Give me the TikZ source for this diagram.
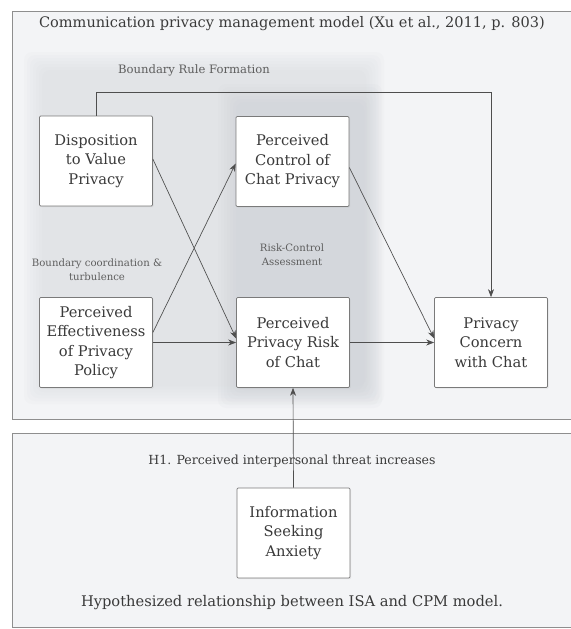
\documentclass[tikz,border=0pt]{standalone}
\usepackage{fontspec}
\setmainfont{DejaVu Serif}
\usetikzlibrary{arrows.meta,calc,shadows}
\definecolor{framebg}{HTML}{F3F4F6}
\definecolor{frameline}{HTML}{8E8E8E}
\definecolor{shadecol}{HTML}{C9CDD3}
\definecolor{boxline}{HTML}{7A7A7A}
\definecolor{lin}{HTML}{4E4E4E}
\definecolor{txt}{HTML}{3A3A3A}
\definecolor{labtxt}{HTML}{5E5E5E}
\begin{document}
\begin{tikzpicture}[x=0.75pt,y=-0.75pt,
  box/.style={draw=boxline, fill=white, line width=0.5pt, minimum width=84.75pt,
    minimum height=67.5pt, align=center, text=txt, inner sep=2pt,
    font=\fontsize{11}{14.6}\selectfont, rounded corners=0.8pt,
    drop shadow={opacity=0.12, shadow xshift=0.8pt, shadow yshift=-0.8pt}},
  arr/.style={draw=lin, line width=0.5pt, -{Stealth[length=6pt,width=4.5pt]}},
  lab/.style={text=labtxt, align=center, font=\fontsize{7.6}{10.5}\selectfont},
  frame/.style={fill=framebg, draw=frameline, line width=0.6pt}]
\useasboundingbox (0,0) rectangle (571,629);
\clip (0,0) rectangle (571,629);
\fill[white] (0,0) rectangle (571,629);
% frames
\path[frame] (12,11) rectangle (590,419);
\path[frame] (12,433) rectangle (590,627);
% shaded regions (soft edges)
\foreach \i in {0,...,6}
  \fill[shadecol, opacity=0.06, rounded corners=6] (24+\i*3,52+\i*3) rectangle (384-\i*3,404-\i*3);
\foreach \i in {0,...,6}
  \fill[shadecol, opacity=0.08, rounded corners=6] (218+\i*3,84+\i*3) rectangle (382-\i*3,408-\i*3);
% texts
\node[text=txt, font=\fontsize{10.9}{12}\selectfont] (title) at (292,24)
  {Communication privacy management model (Xu et al., 2011, p. 803)};
\node[lab, font=\fontsize{8.7}{10}\selectfont] (brf) at (194,70) {Boundary Rule Formation};
\node[lab] (bct) at (97,270) {Boundary coordination \&\\turbulence};
\node[lab] (rca) at (292,255) {Risk-Control\\Assessment};
\node[text=txt, font=\fontsize{9.4}{10}\selectfont] (h1) at (292,461)
  {H1. Perceived interpersonal threat increases};
\node[text=txt, font=\fontsize{11}{12}\selectfont] (hyp) at (292,603)
  {Hypothesized relationship between ISA and CPM model.};
% boxes
\node[box] (disp) at (96,161) {Disposition\\to Value\\Privacy};
\node[box] (ctrl) at (292.5,161.5) {Perceived\\Control of\\Chat Privacy};
\node[box] (eff) at (96,342.5) {Perceived\\Effectiveness\\of Privacy\\Policy};
\node[box] (risk) at (293,342.5) {Perceived\\Privacy Risk\\of Chat};
\node[box] (conc) at (491,342.5) {Privacy\\Concern\\with Chat};
\node[box] (isa) at (293.5,533) {Information\\Seeking\\Anxiety};
% connectors
\coordinate (topy) at (0,92);
\draw[arr] (disp.north) -- (disp.north |- topy) -- (conc.north |- topy) -- (conc.north);
\draw[arr] ($(disp.east)+(0,-2)$) -- ($(risk.west)+(0,-4)$);
\draw[arr] ($(eff.east)+(0,-10)$) -- ($(ctrl.west)+(0,2)$);
\draw[arr] (eff.east) -- (risk.west);
\draw[arr] ($(ctrl.east)+(0,6)$) -- ($(conc.west)+(0,-4)$);
\draw[arr] (risk.east) -- (conc.west);
\draw[arr] (isa.north) -- (risk.south);
\end{tikzpicture}
\end{document}
